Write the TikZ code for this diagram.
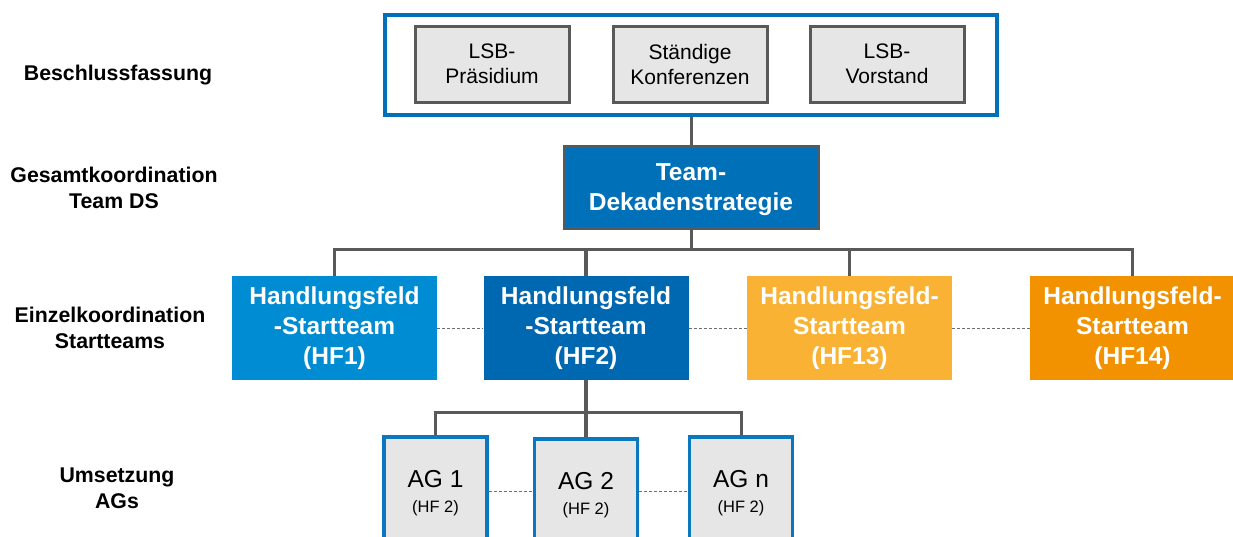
\documentclass[tikz,border=0pt]{standalone}
\usepackage{fontspec}
\setmainfont{Liberation Sans}
\usetikzlibrary{positioning}

\definecolor{frameblue}{RGB}{0,112,184}
\definecolor{agblue}{RGB}{10,120,190}
\definecolor{linegray}{RGB}{89,89,89}
\definecolor{dashgray}{RGB}{110,110,110}
\definecolor{boxgray}{RGB}{230,230,230}
\definecolor{teamblue}{RGB}{0,112,184}
\definecolor{hfone}{RGB}{0,140,210}
\definecolor{hftwo}{RGB}{0,104,176}
\definecolor{hfthirteen}{RGB}{249,178,51}
\definecolor{hffourteen}{RGB}{243,146,0}

\tikzset{
  levellabel/.style={align=center, font=\bfseries\fontsize{21.3}{26}\selectfont},
  gremium/.style={draw=linegray, line width=3pt, fill=boxgray, minimum width=154pt, minimum height=76pt, inner sep=0pt, align=center, font=\fontsize{21}{25}\selectfont},
  hfbox/.style={minimum width=205pt, minimum height=104pt, inner sep=0pt, align=center, text=white, font=\bfseries\fontsize{24.5}{30}\selectfont},
  agbox/.style={draw=agblue, line width=3.2pt, fill=boxgray, minimum width=103pt, minimum height=108pt, inner sep=0pt, align=center, text depth=0pt, font=\fontsize{24.5}{25}\selectfont},
  orgline/.style={draw=linegray, line width=3pt},
  sideline/.style={draw=dashgray, line width=0.9pt, dash pattern=on 3pt off 2pt},
}
\newcommand{\hfnote}{\fontsize{16.5}{25}\selectfont (HF 2)}

\begin{document}
\begin{tikzpicture}[x=1pt,y=-1pt]
\useasboundingbox (0,0) rectangle (1233,536);
\clip (0,0) rectangle (1233,536);

% Ebenen links
\node[levellabel] (lbl_beschluss) at (118,75) {Beschlussfassung};
\node[levellabel] (lbl_gesamt) at (114,188) {Gesamtkoordination\\Team DS};
\node[levellabel] (lbl_einzel) at (110,328) {Einzelkoordination\\Startteams};
\node[levellabel] (lbl_umsetzung) at (117,488) {Umsetzung\\AGs};

% Beschlussfassung
\node[draw=frameblue, line width=3.2pt, minimum width=612pt, minimum height=100pt] (frame) at (691,65) {};
\node[gremium] (praesidium) at (492,64) {LSB-\\Präsidium};
\node[gremium] (konferenzen) at (690,64) {Ständige\\Konferenzen};
\node[gremium] (vorstand) at (887,64) {LSB-\\Vorstand};

% Team DS
\node[draw=linegray, line width=3pt, fill=teamblue, text=white, minimum width=254pt, minimum height=82pt, inner sep=0pt, align=center, text depth=0pt, font=\bfseries\fontsize{24.5}{30}\selectfont] (team) at (691,187) {Team-\\Dekadenstrategie};

% Startteams
\node[hfbox, fill=hfone] (hf1) at (334.5,328) {Handlungsfeld\\-Startteam\\(HF1)};
\node[hfbox, fill=hftwo] (hf2) at (586,328) {Handlungsfeld\\-Startteam\\(HF2)};
\node[hfbox, fill=hfthirteen] (hf13) at (849.5,328) {Handlungsfeld-\\Startteam\\(HF13)};
\node[hfbox, fill=hffourteen] (hf14) at (1132.5,328) {Handlungsfeld-\\Startteam\\(HF14)};

% AGs
\node[agbox] (ag1) at (435.5,491) {AG 1\\\hfnote};
\node[agbox] (ag2) at (586,493) {AG 2\\\hfnote};
\node[agbox] (agn) at (741,491) {AG n\\\hfnote};

% Verbindungen
\coordinate (bus_hf) at (691,249);
\coordinate (bus_ag) at (586,412);
\draw[orgline] (frame.south) -- (team.north);
\draw[orgline] (team.south) -- (bus_hf);
\draw[orgline] (hf1.north) |- (bus_hf) -| (hf14.north);
\draw[orgline, line width=3.8pt] (hf2.north) -- (hf2.north |- bus_hf);
\draw[orgline] (hf13.north) -- (hf13.north |- bus_hf);
\draw[orgline, line width=3.8pt] (hf2.south) -- (ag2.north);
\draw[orgline] (ag1.north) |- (bus_ag) -| (agn.north);

\draw[sideline] (hf1.east) -- (hf2.west);
\draw[sideline] (hf2.east) -- (hf13.west);
\draw[sideline] (hf13.east) -- (hf14.west);
\draw[sideline] (ag1.east) -- (ag1.east -| ag2.west);
\draw[sideline] (agn.west -| ag2.east) -- (agn.west);
\end{tikzpicture}
\end{document}
